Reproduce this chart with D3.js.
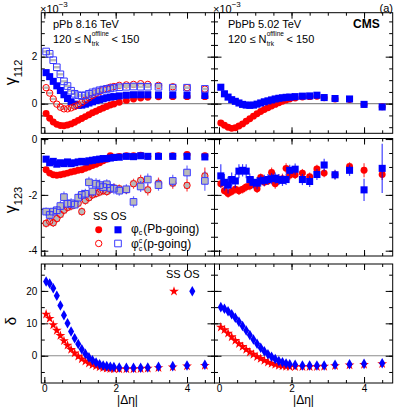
<!DOCTYPE html>
<html>
<head>
<meta charset="utf-8">
<script src="https://cdn.jsdelivr.net/npm/d3@7"></script>
<style>
  body { margin: 0; background: #fff; }
  svg text { font-family: "Liberation Sans", Arial, Helvetica, sans-serif; fill: #000; }
</style>
</head>
<body>
<svg id="chart" width="399" height="417"></svg>
<script>
// |delta eta| bin centres
const etaBins = [0.05, 0.15, 0.25, 0.35, 0.45, 0.55, 0.65, 0.75, 0.85, 0.95,
  1.05, 1.15, 1.25, 1.35, 1.45, 1.55, 1.65, 1.75, 1.85, 1.95,
  2.1, 2.3, 2.5, 2.7, 2.9, 3.2, 3.6, 4.0, 4.5];

// gamma112 (x1e-3), pPb 8.16 TeV
const g112pPbSSPb = [-0.42, -0.62, -0.78, -0.88, -0.93, -0.94, -0.91, -0.86, -0.79, -0.71,
  -0.63, -0.55, -0.47, -0.39, -0.32, -0.25, -0.18, -0.12, -0.06, -0.01,
  0.06, 0.14, 0.20, 0.24, 0.27, 0.29, 0.30, 0.30, 0.30];
const g112pPbOSPb = [1.32, 1.15, 0.95, 0.76, 0.56, 0.38, 0.22, 0.08, -0.02, -0.07,
  -0.06, -0.02, 0.03, 0.08, 0.13, 0.17, 0.21, 0.25, 0.28, 0.30,
  0.33, 0.36, 0.38, 0.38, 0.38, 0.37, 0.37, 0.36, 0.35];
const g112pPbSSp = [0.68, 0.45, 0.20, -0.02, -0.15, -0.22, -0.22, -0.18, -0.12, -0.05,
  0.05, 0.15, 0.25, 0.35, 0.45, 0.52, 0.60, 0.65, 0.70, 0.73,
  0.78, 0.80, 0.82, 0.85, 0.82, 0.78, 0.72, 0.68, 0.62];
const g112pPbOSp = [2.22, 2.12, 1.85, 1.55, 1.25, 0.95, 0.75, 0.55, 0.42, 0.36,
  0.33, 0.36, 0.42, 0.48, 0.52, 0.57, 0.60, 0.63, 0.65, 0.68,
  0.70, 0.72, 0.73, 0.72, 0.72, 0.72, 0.68, 0.68, 0.63];

// gamma112 (x1e-3), PbPb 5.02 TeV
const g112PbPbSS = [-0.82, -0.92, -1.00, -1.05, -1.02, -0.95, -0.86, -0.75, -0.64, -0.53,
  -0.43, -0.33, -0.25, -0.17, -0.10, -0.03, 0.04, 0.10, 0.16, 0.20,
  0.24, 0.28, 0.30, 0.32, 0.25, 0.20, 0.18, -0.03, -0.13];
const g112PbPbOS = [0.70, 0.42, 0.28, 0.17, 0.10, 0.03, -0.03, -0.06, -0.07, -0.06,
  -0.02, 0.03, 0.08, 0.12, 0.16, 0.20, 0.23, 0.25, 0.27, 0.28,
  0.30, 0.32, 0.33, 0.36, 0.26, 0.22, 0.20, -0.03, -0.14];

// gamma123 (x1e-3), pPb
const g123pPbSSPb = [-1.10, -1.22, -1.28, -1.30, -1.28, -1.25, -1.22, -1.18, -1.15, -1.12,
  -1.10, -1.05, -1.00, -0.95, -0.90, -0.85, -0.78, -0.72, -0.60, -0.65,
  -0.62, -0.60, -0.60, -0.58, -0.62, -0.60, -0.60, -0.55, -0.60];
const g123pPbOSPb = [-0.72, -0.85, -0.80, -0.90, -0.85, -0.88, -0.82, -0.88, -0.85, -0.82,
  -0.80, -0.82, -0.78, -0.76, -0.74, -0.72, -0.70, -0.70, -0.68, -0.66,
  -0.65, -0.62, -0.63, -0.60, -0.62, -0.62, -0.62, -0.62, -0.64];
const g123pPbSSp = [-3.02, -2.95, -3.00, -2.85, -2.70, -2.55, -2.45, -2.40, -2.35, -2.30,
  -2.60, -2.20, -2.10, -2.00, -1.95, -1.90, -1.85, -1.88, -1.80, -1.75,
  -1.78, -1.82, -1.60, -1.48, -1.82, -1.58, -1.58, -1.66, -1.32];
const g123pPbOSp = [-2.60, -2.72, -2.60, -2.55, -2.40, -2.08, -2.32, -2.30, -2.35, -2.10,
  -2.00, -1.96, -1.55, -1.88, -1.60, -1.65, -1.72, -1.62, -1.75, -1.78,
  -1.85, -1.80, -2.25, -1.70, -1.45, -1.65, -1.50, -1.20, -1.50];
const g123pPbSSpErr = [0.15, 0.15, 0.15, 0.15, 0.15, 0.15, 0.15, 0.15, 0.15, 0.15,
  0.15, 0.15, 0.15, 0.15, 0.15, 0.15, 0.15, 0.15, 0.15, 0.15,
  0.15, 0.15, 0.18, 0.20, 0.20, 0.20, 0.20, 0.22, 0.30];
const g123pPbOSpErr = [0.15, 0.18, 0.15, 0.15, 0.18, 0.20, 0.15, 0.18, 0.15, 0.18,
  0.18, 0.18, 0.20, 0.18, 0.20, 0.20, 0.20, 0.18, 0.20, 0.20,
  0.18, 0.18, 0.20, 0.20, 0.22, 0.20, 0.22, 0.25, 0.35];

// gamma123 (x1e-3), PbPb
const g123PbPbSS = [-1.60, -1.85, -1.95, -1.88, -1.80, -1.85, -1.80, -1.72, -1.68, -1.60,
  -1.78, -1.38, -1.55, -1.50, -1.20, -1.60, -1.45, -1.42, -1.05, -1.30,
  -1.28, -1.22, -1.35, -1.07, -1.22, -1.28, -0.98, -1.12, -1.27];
const g123PbPbOS = [-1.32, -1.55, -1.65, -1.45, -1.50, -1.15, -1.12, -1.15, -1.45, -1.55,
  -1.58, -1.50, -1.48, -1.45, -1.42, -1.40, -1.45, -1.48, -1.45, -1.12,
  -1.08, -1.45, -1.52, -1.27, -0.93, -1.28, -1.12, -1.82, -1.05];
const g123PbPbSSErr = [0.15, 0.15, 0.15, 0.15, 0.15, 0.15, 0.15, 0.15, 0.15, 0.15,
  0.15, 0.15, 0.15, 0.15, 0.18, 0.18, 0.18, 0.18, 0.18, 0.18,
  0.15, 0.15, 0.15, 0.15, 0.15, 0.15, 0.15, 0.25, 0.20];
const g123PbPbOSErr = [0.42, 0.30, 0.30, 0.25, 0.25, 0.25, 0.22, 0.25, 0.22, 0.22,
  0.22, 0.20, 0.20, 0.20, 0.20, 0.20, 0.20, 0.20, 0.20, 0.20,
  0.20, 0.20, 0.20, 0.20, 0.22, 0.18, 0.20, 0.40, 0.88];

// delta (x1e-3)
const deltaPPbSS = [12.8, 11.5, 9.5, 7.8, 6.2, 4.6, 3.2, 1.9, 0.8, -0.2,
  -1.0, -1.7, -2.3, -2.8, -3.2, -3.5, -3.7, -3.9, -4.0, -4.1,
  -4.1, -4.1, -4.1, -4.0, -3.9, -3.7, -3.5, -3.2, -3.0];
const deltaPPbOS = [22.9, 22.3, 20.8, 18.5, 15.5, 12.5, 10.0, 7.5, 5.4, 3.6,
  2.0, 0.6, -0.5, -1.4, -2.1, -2.6, -3.0, -3.2, -3.4, -3.5,
  -3.6, -3.7, -3.7, -3.7, -3.6, -3.4, -3.2, -3.0, -2.8];
const deltaPbPbSS = [8.8, 8.0, 6.9, 5.8, 4.7, 3.7, 2.8, 1.9, 1.1, 0.4,
  -0.3, -0.9, -1.5, -2.0, -2.4, -2.7, -3.0, -3.2, -3.3, -3.4,
  -3.4, -3.4, -3.4, -3.4, -3.3, -3.1, -2.9, -2.7, -2.5];
const deltaPbPbOS = [15.0, 14.5, 13.7, 12.8, 11.7, 10.5, 9.2, 7.8, 6.4, 5.0,
  3.7, 2.5, 1.4, 0.5, -0.3, -1.0, -1.6, -2.0, -2.4, -2.6,
  -2.8, -3.0, -3.0, -3.0, -3.0, -2.8, -2.6, -2.5, -2.3];

// axis ticks
const xTicks = [0, 2, 4];
const yTicks112 = [0, 2];
const yTicks123 = [-4, -2, 0];
const yTicksDelta = [0, 10, 20];

const RED = '#ff0000', BLUE = '#0000ff', GREY = '#b9b9b9';
const svg = d3.select('#chart');

const cols = [
  {x0: 41.3, x1: 214.5, dom: [-0.085, 4.77]},
  {x0: 214.5, x1: 392.7, dom: [-0.124, 4.79]}
];
const rows = [
  {y0: 12.7, y1: 133.3, dom: [-1.26, 3.87], major: yTicks112, step: 0.5, zero: true},
  {y0: 138.5, y1: 256, dom: [-4.19, 0.02], major: yTicks123, step: 0.5, zero: false},
  {y0: 264, y1: 383, dom: [-8.4, 28.3], major: yTicksDelta, step: 5, zero: true}
];

function panel(r, c) {
  const row = rows[r], col = cols[c];
  const x = d3.scaleLinear().domain(col.dom).range([col.x0, col.x1]);
  const y = d3.scaleLinear().domain(row.dom).range([row.y1, row.y0]);
  const g = svg.append('g');

  if (row.zero) {
    g.append('line')
      .attr('x1', col.x0).attr('x2', col.x1)
      .attr('y1', y(0)).attr('y2', y(0))
      .attr('stroke', '#8c8c8c').attr('stroke-width', 1.2);
  }

  const yMinor = d3.range(Math.ceil(row.dom[0] / row.step) * row.step, row.dom[1], row.step);
  const xMinor = d3.range(0, col.dom[1], 0.5);
  const noDomain = (a) => a.call(s => s.select('.domain').remove());
  const fmt = (d) => String(d);

  const axes = g.append('g').attr('font-size', 11);
  axes.append('g').attr('transform', `translate(${col.x0},0)`)
    .call(d3.axisLeft(y).tickValues(yMinor).tickSize(-3.5).tickFormat('')).call(noDomain);
  axes.append('g').attr('transform', `translate(${col.x0},0)`)
    .call(d3.axisLeft(y).tickValues(row.major).tickSize(-7).tickPadding(4)
      .tickFormat(c === 0 ? fmt : '')).call(noDomain);
  axes.append('g').attr('transform', `translate(${col.x1},0)`)
    .call(d3.axisRight(y).tickValues(yMinor).tickSize(-3.5).tickFormat('')).call(noDomain);
  axes.append('g').attr('transform', `translate(${col.x1},0)`)
    .call(d3.axisRight(y).tickValues(row.major).tickSize(-7).tickFormat('')).call(noDomain);

  axes.append('g').attr('transform', `translate(0,${row.y1})`)
    .call(d3.axisBottom(x).tickValues(xMinor).tickSize(-3).tickFormat('')).call(noDomain);
  axes.append('g').attr('transform', `translate(0,${row.y1})`)
    .call(d3.axisBottom(x).tickValues(xTicks).tickSize(-6).tickPadding(1.5)
      .tickFormat(r === 2 ? fmt : '')).call(noDomain);
  axes.append('g').attr('transform', `translate(0,${row.y0})`)
    .call(d3.axisTop(x).tickValues(xMinor).tickSize(-3).tickFormat('')).call(noDomain);
  axes.append('g').attr('transform', `translate(0,${row.y0})`)
    .call(d3.axisTop(x).tickValues(xTicks).tickSize(-6).tickFormat('')).call(noDomain);
  axes.selectAll('text').attr('font-family', '"Liberation Sans", Arial, sans-serif');

  const data = g.append('g');
  g.append('rect')
    .attr('x', col.x0).attr('y', row.y0)
    .attr('width', col.x1 - col.x0).attr('height', row.y1 - row.y0)
    .attr('fill', 'none').attr('stroke', '#000').attr('stroke-width', 1);
  return {g: data, x, y};
}

function drawPoints(p, vals, opt) {
  const pts = etaBins.map((e, i) => ({e, v: vals[i], err: opt.err ? opt.err[i] : 0}));
  if (opt.err) {
    p.g.append('g').selectAll('line').data(pts).enter().append('line')
      .attr('x1', d => p.x(d.e)).attr('x2', d => p.x(d.e))
      .attr('y1', d => p.y(d.v - d.err)).attr('y2', d => p.y(d.v + d.err))
      .attr('stroke', opt.color).attr('stroke-opacity', 0.75).attr('stroke-width', 1.2);
  }
  if (opt.syst) {
    p.g.append('g').selectAll('rect').data(pts).enter().append('rect')
      .attr('x', d => p.x(d.e) - 3).attr('width', 6)
      .attr('y', d => p.y(d.v + opt.syst)).attr('height', d => p.y(d.v - opt.syst) - p.y(d.v + opt.syst))
      .attr('fill', GREY);
  }
  p.g.append('g').selectAll('path').data(pts).enter().append('path')
    .attr('d', d3.symbol(opt.shape, opt.size))
    .attr('transform', d => `translate(${p.x(d.e)},${p.y(d.v)})`)
    .attr('fill', opt.open ? 'none' : opt.color)
    .attr('stroke', opt.open ? opt.color : 'none')
    .attr('stroke-width', opt.open ? 1 : 0);
}

const fCirc = {shape: d3.symbolCircle, size: 38};
const fSq = {shape: d3.symbolSquare, size: 50};
const oCirc = {shape: d3.symbolCircle, size: 32, open: true};
const oSq = {shape: d3.symbolSquare, size: 44, open: true};

// top row: gamma112
const p00 = panel(0, 0);
drawPoints(p00, g112pPbSSPb, {...fCirc, color: RED});
drawPoints(p00, g112pPbOSPb, {...fSq, color: BLUE});
drawPoints(p00, g112pPbSSp, {...oCirc, color: RED, syst: 0.05});
drawPoints(p00, g112pPbOSp, {...oSq, color: '#3a3aff', syst: 0.05});

const p01 = panel(0, 1);
drawPoints(p01, g112PbPbSS, {...fCirc, color: RED});
drawPoints(p01, g112PbPbOS, {...fSq, color: BLUE});

// middle row: gamma123
const p10 = panel(1, 0);
drawPoints(p10, g123pPbSSp, {...oCirc, color: RED, syst: 0.12, err: g123pPbSSpErr});
drawPoints(p10, g123pPbOSp, {...oSq, color: '#3a3aff', syst: 0.12, err: g123pPbOSpErr});
drawPoints(p10, g123pPbSSPb, {...fCirc, color: RED});
drawPoints(p10, g123pPbOSPb, {...fSq, color: BLUE});

const p11 = panel(1, 1);
drawPoints(p11, g123PbPbSS, {...fCirc, color: RED, err: g123PbPbSSErr});
drawPoints(p11, g123PbPbOS, {...fSq, color: BLUE, err: g123PbPbOSErr});

// bottom row: delta
const star = {shape: d3.symbolStar, size: 30};
const diamond = {shape: d3.symbolDiamond, size: 32};
const p20 = panel(2, 0);
drawPoints(p20, deltaPPbSS, {...star, color: RED});
drawPoints(p20, deltaPPbOS, {...diamond, color: BLUE});
const p21 = panel(2, 1);
drawPoints(p21, deltaPbPbSS, {...star, color: RED});
drawPoints(p21, deltaPbPbOS, {...diamond, color: BLUE});

// ---- texts ----
function addText(x, y, str, size, opts = {}) {
  return svg.append('text').attr('x', x).attr('y', y)
    .attr('font-size', size)
    .attr('font-weight', opts.bold ? 'bold' : null)
    .attr('text-anchor', opts.anchor || 'start')
    .text(str);
}

// x10^-3 multipliers
[40, 213].forEach(x0 => {
  const t = addText(x0, 12.5, '\u00d710', 11);
  t.append('tspan').attr('font-size', 8).attr('dy', -5.5).text('\u22123');
});
addText(393, 11.5, '(a)', 11, {anchor: 'end'});
addText(53, 27.5, 'pPb 8.16 TeV', 11);
addText(228, 27.5, 'PbPb 5.02 TeV', 11);
addText(353, 27.5, 'CMS', 12, {bold: true});

// multiplicity range
[53, 228].forEach(x0 => {
  const t = addText(x0, 42.5, '120 \u2264 N', 11);
  const w = t.node().getComputedTextLength();
  addText(x0 + w + 0.3, 36, 'offline', 6.5);
  addText(x0 + w + 0.3, 46, 'trk', 6.5);
  addText(x0 + w + 20, 42.5, '< 150', 11);
});

// axis titles
function yTitle(cy, main, sub, size) {
  const t = svg.append('text')
    .attr('transform', `translate(15.5,${cy}) rotate(-90)`)
    .attr('text-anchor', 'middle');
  t.append('tspan').attr('font-size', size).text(main);
  if (sub) t.append('tspan').attr('font-size', 11).attr('dy', 6).text(sub);
}
yTitle(72.5, '\u03b3', '112', 16);
yTitle(200, '\u03b3', '123', 16);
yTitle(321, '\u03b4', null, 15);
[127.5, 303.5].forEach(cx => addText(cx, 404, '|\u0394\u03b7|', 12, {anchor: 'middle'}));

// legend, middle-left panel
addText(93, 220, 'SS OS', 11);
function legendMarker(x, y, opt) {
  svg.append('path').attr('d', d3.symbol(opt.shape, opt.size))
    .attr('transform', `translate(${x},${y})`)
    .attr('fill', opt.open ? 'none' : opt.color)
    .attr('stroke', opt.open ? opt.color : 'none').attr('stroke-width', 1);
}
legendMarker(98.7, 229.8, {...fCirc, color: RED});
legendMarker(118, 229.8, {...fSq, color: BLUE});
legendMarker(98.7, 243.5, {...oCirc, color: RED});
legendMarker(118, 243.5, {...oSq, color: '#3a3aff'});

const l1 = addText(131, 233, '\u03c6', 12);
l1.append('tspan').attr('font-size', 7).attr('dy', 2).text('c');
l1.append('tspan').attr('dy', -2).attr('dx', 1).text('(Pb-going)');
const l2 = addText(131, 248, '\u03c6', 12);
l2.append('tspan').attr('font-size', 7).attr('dy', -5).text('c');
l2.append('tspan').attr('font-size', 7).attr('dy', 8).attr('dx', -3.6).text('c');
l2.append('tspan').attr('dy', -3).attr('dx', 1).text('(p-going)');

// legend, bottom-left panel
addText(166, 278, 'SS OS', 11);
legendMarker(174, 291.3, {...star, color: RED});
legendMarker(192.3, 291.3, {...diamond, color: BLUE});
</script>
</body>
</html>
